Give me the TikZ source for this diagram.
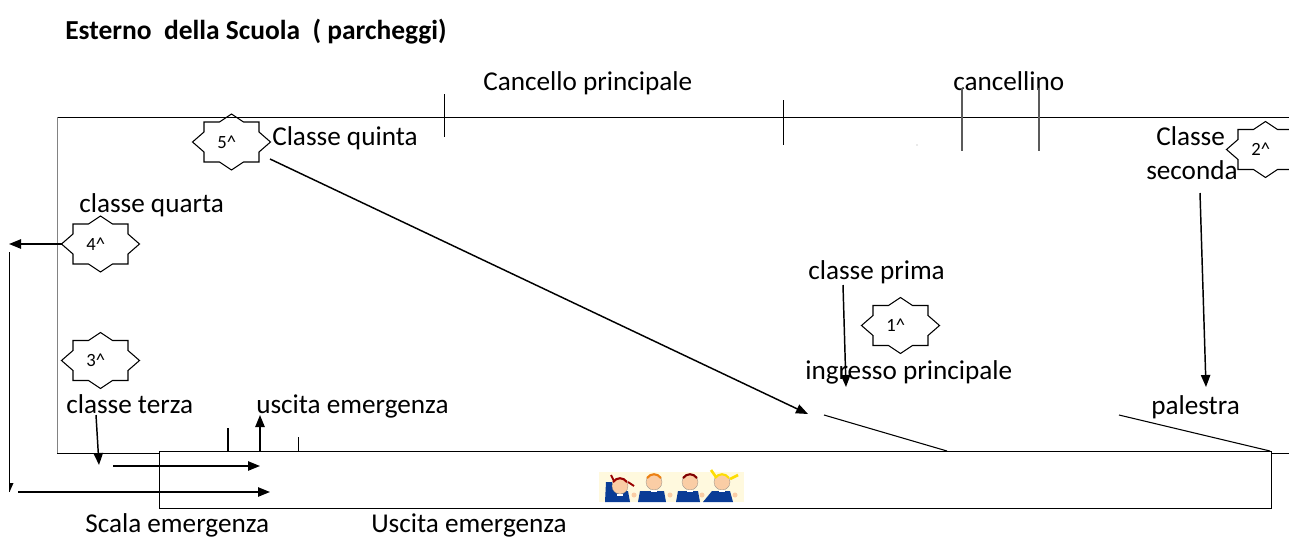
\documentclass[tikz,border=0pt]{standalone}
\usepackage{fontspec}
\setmainfont{Carlito}
\usetikzlibrary{arrows.meta}
\definecolor{wallgray}{RGB}{130,130,130}
\definecolor{kidblue}{RGB}{10,60,150}
\definecolor{kidskin}{RGB}{250,205,165}
\definecolor{kidback}{RGB}{255,249,222}
\tikzset{
    arrline/.style={line width=1.1pt,-{Triangle[length=9pt,width=7pt]}},
    wall/.style={line width=0.75pt},
    tick/.style={line width=0.7pt},
    lbl/.style={anchor=base west,inner sep=0pt,font=\fontsize{20.4}{24}\selectfont},
    sealbox/.style={minimum width=58pt,minimum height=42pt,inner sep=0pt,font=\fontsize{14}{16}\selectfont},
    seal/.pic={\draw[line width=0.8pt] (0,-28) -- (12,-20) -- (27.5,-20) -- (27.5,-10) -- (39,0)
        -- (27.5,10) -- (27.5,20) -- (12,20) -- (0,28) -- (-12,20) -- (-27.5,20) -- (-27.5,10)
        -- (-39,0) -- (-27.5,-10) -- (-27.5,-20) -- (-12,-20) -- cycle;}
}
\begin{document}
\begin{tikzpicture}[x=0.75pt,y=-0.75pt]
    \useasboundingbox (0,0) rectangle (1289,539);
    \clip (0,0) rectangle (1289,539);
    % title and labels
    \node[lbl,font=\fontsize{20.6}{24}\selectfont\bfseries] (title) at (65,39) {Esterno\ \ della Scuola\ \ ( parcheggi)};
    \node[lbl] (lblcancello) at (483,90) {Cancello principale};
    \node[lbl] (lblcancellino) at (953,90) {cancellino};
    \node[lbl] (lblquinta) at (272,145) {Classe quinta};
    \node[lbl] (lblquarta) at (79,212) {classe quarta};
    \node[lbl] (lblterza) at (66,413) {classe terza};
    \node[lbl] (lbluscita) at (256,413) {uscita emergenza};
    \node[lbl] (lblscala) at (85,532) {Scala emergenza};
    \node[lbl] (lblUscita) at (371,532) {Uscita emergenza};
    \node[lbl] (lblprima) at (808,279) {classe prima};
    \node[lbl] (lblingresso) at (805,379) {ingresso principale};
    \node[lbl] (lblpalestra) at (1151,414) {palestra};
    \node[lbl] (lblclasse) at (1156,145) {Classe};
    \node[lbl] (lblseconda) at (1146,179) {seconda};
    % walls
    \draw[wall] (1289,117) -- (57,117);
    \draw[wall,wallgray] (57,117) -- (57,453);
    \draw[wall] (57,453) -- (159,453);
    \draw[wall] (159,451) rectangle (1271,508);
    \draw[wall] (1271,453) -- (1289,453);
    % gates
    \draw[tick] (444,94) -- (444,137);
    \draw[tick] (783,100) -- (783,145);
    \draw[tick,line width=0.95pt,wallgray!70!black] (962,88) -- (962,151);
    \draw[tick,line width=0.95pt,wallgray!70!black] (1039,88) -- (1039,151);
    \fill (917,145) circle (0.4);
    \draw[line width=1.5pt] (228,428) -- (228,451);
    \draw[line width=0.5pt] (298,437) -- (298,451);
    \draw[line width=0.8pt] (824,415) -- (947,451);
    \draw[line width=0.8pt] (1119,415) -- (1270,451);
    % classrooms
    \foreach \sname/\sx/\sy/\stxt in {seal5/231.5/142/5,seal4/100.5/244/4,seal3/100.5/360.5/3,seal1/900.5/325.5/1,seal2/1265.5/149.5/2}{
        \pic at (\sx,\sy) {seal};
        \node[sealbox] (\sname) at (\sx,\sy) {\stxt\textasciicircum\kern7pt\relax};
    }
    % escape routes
    \coordinate (fromquinta) at (270,159);
    \coordinate (toingresso) at (808,414);
    \coordinate (fromprima) at (843,285);
    \coordinate (toprima) at (846,387);
    \coordinate (fromseconda) at (1200,193);
    \coordinate (topalestra) at (1206,387);
    \coordinate (fromterza) at (96,415);
    \coordinate (toterza) at (99,465);
    \coordinate (fromscala) at (113,466);
    \coordinate (toscala) at (260,466);
    \coordinate (fromlato) at (18,492);
    \coordinate (tolato) at (270,492);
    \coordinate (fromporta) at (260,451);
    \coordinate (toporta) at (260,415);
    \coordinate (toquarta) at (9,244);
    \coordinate (downtop) at (9.5,252);
    \coordinate (downend) at (9.5,492);
    \draw[arrline] (fromquinta) -- (toingresso);
    \draw[arrline] (fromprima) -- (toprima);
    \draw[arrline] (fromseconda) -- (topalestra);
    \draw[arrline] (fromterza) -- (toterza);
    \draw[arrline] (fromscala) -- (toscala);
    \draw[arrline] (fromlato) -- (tolato);
    \draw[arrline] (fromporta) -- (toporta);
    \draw[arrline] (seal4.west) -- (toquarta);
    \draw[line width=0.8pt] (downtop) -- (downend);
    \fill (downend) -- ++(0,-9) -- ++(4,0) -- cycle;
    % children
    \fill[kidback] (599,472) rectangle (744,502);
    \foreach \ba/\bb/\bc/\bd in {605/612/628/630,638/640/664/666,676/678/698/700,703/712/730/733}{
        \fill[kidblue] (\ba,502) -- (\bb,491) -- (\bc,491) -- (\bd,502) -- cycle;
    }
    \fill[kidblue] (605,502) -- (606,482) -- (612,482) -- (616,495) -- cycle;
    \foreach \kx/\ky/\khair in {620/486/red!60!black,654/482/orange!70!brown,690/482/red!50!black,722/482/yellow!80!orange}{
        \fill[kidskin,draw=gray,line width=0.2pt] (\kx,\ky) circle (8);
        \draw[\khair,line width=1.6pt] (\kx-7,\ky-4) .. controls (\kx-3,\ky-9) and (\kx+3,\ky-9) .. (\kx+7,\ky-4);
        \fill[white] (\kx-3,\ky+8) rectangle (\kx+3,\ky+10);
    }
    \foreach \kx in {634,670,702,735}{
        \fill[kidskin] (\kx,495) circle (2.5);
    }
    \draw[red!60!black,line width=1.4pt] (611,475) -- (614,481);
    \draw[red!60!black,line width=1.4pt] (628,482) -- (634,486);
    \draw[yellow!80!orange,line width=2pt] (711,470) -- (716,477);
    \draw[yellow!80!orange,line width=2pt] (730,479) -- (738,475);
\end{tikzpicture}
\end{document}
